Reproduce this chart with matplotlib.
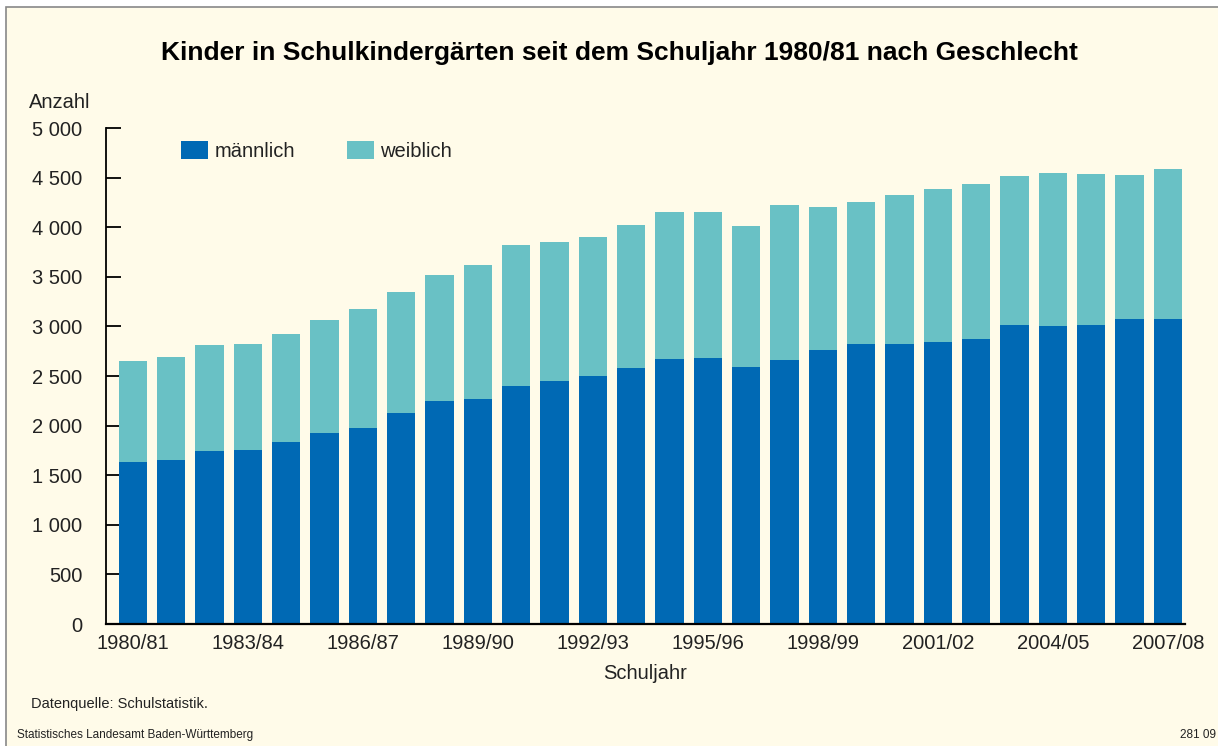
import matplotlib
matplotlib.use("Agg")
import matplotlib.pyplot as plt
from matplotlib.patches import Rectangle
import numpy as np

years = ["1980/81", "1981/82", "1982/83", "1983/84", "1984/85", "1985/86", "1986/87",
         "1987/88", "1988/89", "1989/90", "1990/91", "1991/92", "1992/93", "1993/94",
         "1994/95", "1995/96", "1996/97", "1997/98", "1998/99", "1999/00", "2000/01",
         "2001/02", "2002/03", "2003/04", "2004/05", "2005/06", "2006/07", "2007/08"]
maennlich = [1630, 1650, 1740, 1750, 1831, 1921, 1972, 2123, 2253, 2264, 2404, 2445,
             2495, 2585, 2676, 2686, 2595, 2666, 2767, 2827, 2827, 2847, 2877, 3018,
             3008, 3018, 3078, 3078]
gesamt = [2656, 2696, 2817, 2827, 2927, 3068, 3179, 3350, 3521, 3622, 3823, 3853,
          3903, 4024, 4155, 4155, 4014, 4225, 4205, 4255, 4326, 4386, 4436, 4517,
          4547, 4537, 4527, 4587]
weiblich = [g - m for g, m in zip(gesamt, maennlich)]
yticks = [0, 500, 1000, 1500, 2000, 2500, 3000, 3500, 4000, 4500, 5000]
ytick_labels = ["0", "500", "1 000", "1 500", "2 000", "2 500", "3 000", "3 500",
                "4 000", "4 500", "5 000"]

c_m = "#0069B4"
c_w = "#69C1C5"
bg = "#FFFBE9"
FONT = "Liberation Sans"
plt.rcParams['font.family'] = [FONT, 'DejaVu Sans']

W, H = 1218, 746
fig = plt.figure(figsize=(W / 100, H / 100), dpi=100)
fig.patch.set_facecolor("white")
fig.patches.append(Rectangle((6 / W, -0.1), 1.1, 1.1 - 7 / H, transform=fig.transFigure,
                             facecolor=bg, edgecolor="#888888", linewidth=1.2, zorder=-5))

ax = fig.add_axes([106 / W, 1 - 624 / H, (1185 - 106) / W, (624 - 128) / H])
ax.set_zorder(2)
ax.set_facecolor("none")
x = np.arange(len(years))
ax.bar(x, maennlich, width=0.74, color=c_m, label="männlich", zorder=2)
ax.bar(x, weiblich, bottom=maennlich, width=0.74, color=c_w, label="weiblich", zorder=2)

ax.set_xlim(-0.70, 27.45)
ax.set_ylim(0, 5000)
for s in ["top", "right"]:
    ax.spines[s].set_visible(False)
ax.spines["left"].set_linewidth(1.3)
ax.spines["bottom"].set_linewidth(1.6)
ax.spines["bottom"].set_zorder(3)
ax.set_yticks(yticks)
ax.set_yticklabels(ytick_labels, fontsize=14.5, color="#222222")
ax.tick_params(axis="y", direction="in", length=11, width=1.3, pad=17)
ax.set_xticks(x[::3])
ax.set_xticklabels(years[::3], fontsize=14.5, color="#222222")
ax.tick_params(axis="x", length=0, pad=7)
ax.set_xlabel("Schuljahr", fontsize=14.5, color="#222222", labelpad=8)

fig.text(60 / W, 1 - 102 / H, "Anzahl", fontsize=14.5, color="#222222", ha="center", va="center")
fig.text(619 / W, 1 - 53 / H, "Kinder in Schulkindergärten seit dem Schuljahr 1980/81 nach Geschlecht",
         fontsize=19, fontweight="bold", ha="center", va="center", color="black")

leg = ax.legend(loc="upper left", bbox_to_anchor=(75 / 1079, 1 - 13 / 496), ncol=2, frameon=False,
                fontsize=14.5, handlelength=1.35, handleheight=1.0, handletextpad=0.3,
                columnspacing=2.6, borderaxespad=0, borderpad=0)
for t in leg.get_texts():
    t.set_color("#222222")

fig.text(31 / W, 1 - 704 / H, "Datenquelle: Schulstatistik.", fontsize=10.5, color="#222222", va="center")
fig.text(17 / W, 1 - 735 / H, "Statistisches Landesamt Baden-Württemberg", fontsize=8.5,
         color="#222222", va="center")
fig.text(1180 / W, 1 - 735 / H, "281 09", fontsize=8.5, color="#222222", va="center")

fig.savefig("out.png", dpi=100, facecolor=fig.get_facecolor())
